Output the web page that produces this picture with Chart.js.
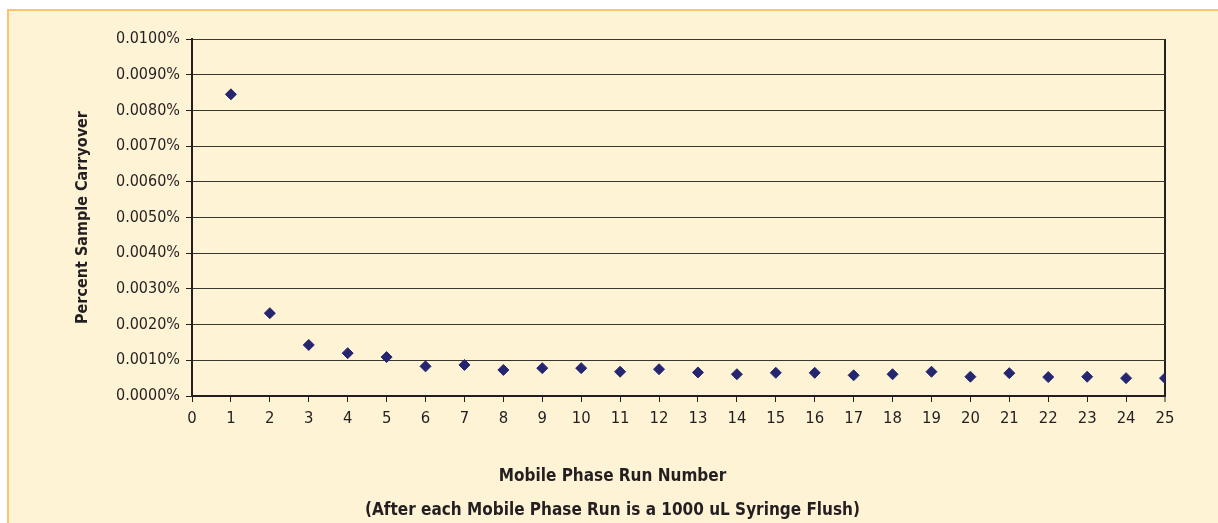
<!DOCTYPE html>
<html>
<head>
<meta charset="utf-8">
<script src="https://cdn.jsdelivr.net/npm/chart.js@4.4.1/dist/chart.umd.min.js"></script>
<style>
  html, body { margin: 0; padding: 0; background: #ffffff; overflow: hidden; width: 1218px; height: 523px; }
  #bg { position: absolute; left: 7px; top: 9px; right: 0; bottom: 0; background: #FEF3D5; border-top: 2px solid #FDC36F; border-left: 2px solid #FDC36F; }
  #wrap { position: absolute; left: 0; top: 0; width: 1210px; height: 528px; }
</style>
</head>
<body>
<div id="bg"></div>
<div id="wrap"><canvas id="c" width="1210" height="528"></canvas></div>
<script>
const runNumbers = [1, 2, 3, 4, 5, 6, 7, 8, 9, 10, 11, 12, 13, 14, 15, 16, 17, 18, 19, 20, 21, 22, 23, 24, 25];
const carryoverPercent = [0.00845, 0.00232, 0.00143, 0.00120, 0.00109, 0.00083, 0.00087, 0.00073, 0.00078, 0.00078,
  0.00068, 0.00075, 0.00066, 0.00061, 0.00065, 0.00065, 0.00058, 0.00061, 0.00068, 0.00054,
  0.00064, 0.00053, 0.00054, 0.00050, 0.00050];
const yTitle = 'Percent Sample Carryover';
const xTitleLines = ['Mobile Phase Run Number', '(After each Mobile Phase Run is a 1000 uL Syringe Flush)'];

const FAMILY = "'Liberation Sans Narrow', 'DejaVu Sans Condensed', 'Arial Narrow', sans-serif";
const INK = '#231f20';

const points = runNumbers.map((x, i) => ({ x: x, y: carryoverPercent[i] }));

new Chart(document.getElementById('c'), {
  type: 'scatter',
  data: {
    datasets: [{
      data: points,
      pointStyle: 'rectRot',
      pointRadius: 5.5,
      pointHoverRadius: 5.5,
      backgroundColor: '#25266F',
      borderColor: '#25266F',
      borderWidth: 1
    }]
  },
  options: {
    responsive: false,
    animation: false,
    devicePixelRatio: 1,
    layout: { padding: { left: 60, top: 39, right: 45, bottom: 0 } },
    plugins: {
      legend: { display: false },
      tooltip: { enabled: false },
      title: {
        display: true,
        position: 'bottom',
        text: xTitleLines,
        color: INK,
        font: { family: FAMILY, size: 17, weight: 'bold', lineHeight: 2.0 },
        padding: { top: 0, bottom: 0 }
      }
    },
    scales: {
      x: {
        type: 'linear',
        min: 0, max: 25,
        afterFit: s => { s.height = 64; },
        ticks: { stepSize: 1, color: INK, font: { family: FAMILY, size: 16.5 }, padding: 7, maxRotation: 0, autoSkip: false },
        grid: {
          drawOnChartArea: true,
          color: ctx => (ctx.tick && ctx.tick.value === 25) ? INK : 'rgba(0,0,0,0)',
          lineWidth: ctx => (ctx.tick && ctx.tick.value === 25) ? 2 : 1,
          tickColor: INK,
          tickLength: 6,
          tickWidth: 1
        },
        border: { display: true, color: INK, width: 2 }
      },
      y: {
        type: 'linear',
        min: 0, max: 0.01,
        afterFit: s => { s.width = 132; },
        ticks: {
          stepSize: 0.001,
          color: INK,
          font: { family: FAMILY, size: 16 },
          padding: 6,
          callback: v => (Math.round(v * 10000) / 10000).toFixed(4) + '%'
        },
        grid: { color: '#3a3630', lineWidth: 1, tickLength: 6, tickColor: INK },
        border: { display: true, color: INK, width: 2 },
        title: {
          display: true,
          text: yTitle,
          color: INK,
          font: { family: FAMILY, size: 16, weight: 'bold' },
          padding: { top: 13, bottom: 0 }
        }
      }
    }
  }
});
</script>
</body>
</html>
